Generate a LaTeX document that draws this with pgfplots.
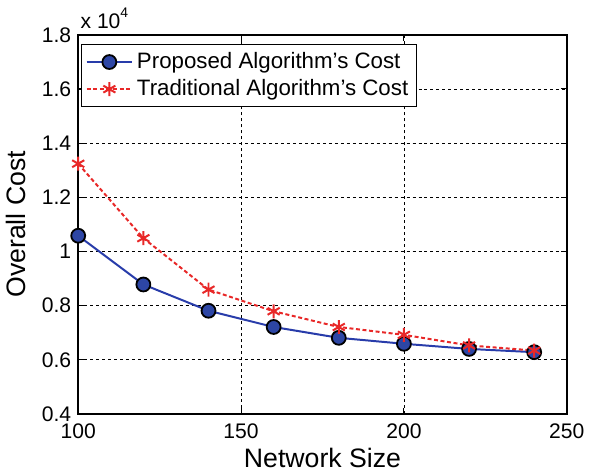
\documentclass[border=0pt]{standalone}
\usepackage{fontspec}
\setmainfont{Liberation Sans}
\usepackage{pgfplots}
\pgfplotsset{compat=1.18}
\definecolor{pblue}{RGB}{40,60,170}
\definecolor{mblue}{RGB}{45,70,165}
\definecolor{tred}{RGB}{232,40,40}
\begin{document}
\begin{tikzpicture}
\begin{axis}[
  scale only axis,
  width=245.5pt, height=190.5pt,
  xmin=100, xmax=250, ymin=0.4, ymax=1.8,
  xtick={100,150,200,250},
  ytick={0.4,0.6,0.8,1,1.2,1.4,1.6,1.8},
  yticklabels={0.4,0.6,0.8,1,1.2,1.4,1.6,1.8},
  /pgf/number format/assume math mode=true,
  tick align=inside,
  major tick length=3pt,
  axis line style={line width=0.8pt},
  every tick/.style={black, line width=0.5pt},
  grid=major,
  major grid style={black, line width=0.35pt, dash pattern=on 1.5pt off 1.5pt},
  tick label style={font=\fontsize{10.6}{12}\selectfont},
  xticklabel style={yshift=-1.5pt},
  yticklabel style={xshift=0pt},
  xlabel={Network Size}, ylabel={Overall Cost},
  label style={font=\fontsize{13.4}{15}\selectfont},
  xlabel style={yshift=2pt},
  ylabel style={yshift=1pt},
  legend style={at={(0.006,0.976)}, anchor=north west, draw=black, line width=0.6pt,
    font=\fontsize{11.2}{13}\selectfont, inner sep=2pt, row sep=0pt, fill=white},
  legend cell align=left,
  legend image code/.code={\draw[mark repeat=2,mark phase=2] plot coordinates {(0cm,0cm) (0.4cm,0cm) (0.8cm,0cm)};},
  clip=false,
]
\addplot[pblue, line width=1pt, mark=*, mark size=3.5pt,
  mark options={fill=mblue, draw=black, line width=0.9pt, solid}]
  coordinates {(100,1.058) (120,0.878) (140,0.781) (160,0.721) (180,0.681) (200,0.659) (220,0.640) (240,0.628)};
\addlegendentry{Proposed Algorithm's Cost}
\addplot[tred, line width=1pt, dash pattern=on 2pt off 1.3pt, mark=asterisk, mark size=3.5pt,
  mark options={solid, tred, line width=1pt}]
  coordinates {(100,1.324) (120,1.049) (140,0.859) (160,0.779) (180,0.721) (200,0.692) (220,0.653) (240,0.634)};
\addlegendentry{Traditional Algorithm's Cost}
\node[anchor=south west, font=\fontsize{10.6}{12}\selectfont, inner sep=1pt] at ([yshift=2pt]rel axis cs:0,1) {x 10\raisebox{1ex}{\fontsize{7}{8}\selectfont 4}};
\path ([yshift=17.5pt]rel axis cs:0,1);
\end{axis}
\end{tikzpicture}
\end{document}
